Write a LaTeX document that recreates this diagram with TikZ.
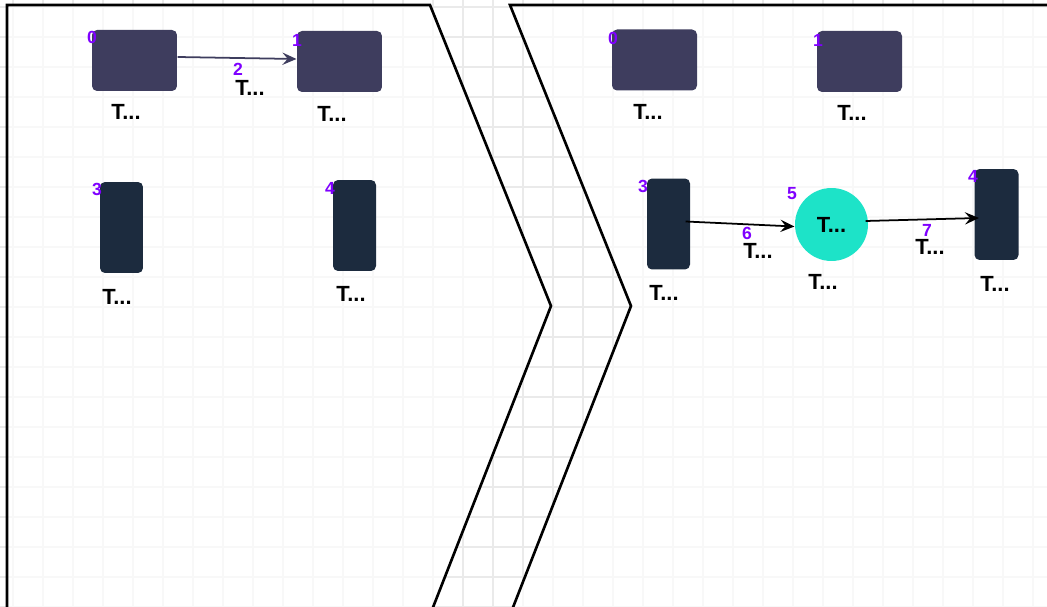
\documentclass[tikz,border=0pt]{standalone}
\usepackage{fontspec}
\setmainfont{Liberation Sans}
\usepackage{xcolor}
\usepackage{tikz}
\usetikzlibrary{arrows.meta}
\usetikzlibrary{positioning}

\definecolor{slab}{RGB}{62,61,94}
\definecolor{pillar}{RGB}{28,43,62}
\definecolor{aqua}{RGB}{29,227,200}
\definecolor{idviolet}{RGB}{127,0,255}
\definecolor{gridgray}{RGB}{234,234,234}

\begin{document}
\begin{tikzpicture}[x=0.02cm,y=-0.02cm,>={Stealth[length=8pt,width=7pt,inset=3pt]},semithick]
	\tikzstyle{wide}=[fill=slab, rounded corners=0.1cm, minimum width=1.7cm, minimum height=1.22cm, inner sep=0pt]
	\tikzstyle{tall}=[fill=pillar, rounded corners=0.1cm, minimum width=0.86cm, minimum height=1.82cm, inner sep=0pt]
	\tikzstyle{hub}=[fill=aqua, circle, minimum size=1.46cm, inner sep=0pt, font=\fontsize{12.5}{14}\selectfont\bfseries]
	\tikzstyle{txt}=[font=\fontsize{12.5}{14}\selectfont\bfseries, inner sep=0pt]
	\tikzstyle{num}=[font=\fontsize{10}{11}\selectfont\bfseries, text=idviolet, inner sep=0pt]
	\tikzstyle{link}=[->, line width=1pt]
	\tikzstyle{panel}=[line width=1.5pt, line join=miter]

	\useasboundingbox (0,0) rectangle (1047,607);
	\clip (0,0) rectangle (1047,607);

	% background grid
	\foreach \x in {13,43,...,1043} \draw[gridgray, line width=0.6pt] (\x,0) -- (\x,607);
	\foreach \y in {7,37,...,607} \draw[gridgray, line width=0.6pt] (0,\y) -- (1047,\y);

	% the two chevron panels
	\fill[white, opacity=0.7] (7,615) -- (7,5) -- (430,5) -- (551,306) -- (430,615) -- cycle;
	\fill[white, opacity=0.7] (1060,5) -- (510,5) -- (631,306) -- (510,615) -- (1060,615) -- cycle;
	\draw[panel] (7,615) -- (7,5) -- (430,5) -- (551,306) -- (430,615);
	\draw[panel] (1060,5) -- (510,5) -- (631,306) -- (510,615);

	% left panel
	\node[wide] 		(L0) at (134.5,60.5)	{};
	\node[wide] 		(L1) at (339.5,61.5)	{};
	\node[tall] 		(L3) at (121.5,227.5)	{};
	\node[tall] 		(L4) at (354.5,225.5)	{};
	\node[num]  (L0n) at (92,37)   {0};
	\node[num]  (L1n) at (297,40)  {1};
	\node[num]  (L3n) at (97,189)  {3};
	\node[num]  (L4n) at (330,188) {4};
	\node[txt]  (L0t) at (126,112)  {T...};
	\node[txt]  (L1t) at (332,114)  {T...};
	\node[txt]  (L3t) at (117,297)  {T...};
	\node[txt]  (L4t) at (351,294)  {T...};
	\node[num]  (L2n) at (238,69)  {2};
	\node[txt]  (L2t) at (250,88)  {T...};

	% right panel
	\node[wide] 		(R0) at (654.5,60)		{};
	\node[wide] 		(R1) at (859.5,61.5)	{};
	\node[tall] 		(R3) at (668.5,224)		{};
	\node[tall, minimum width=0.88cm] (R4) at (996.5,214.5)	{};
	\node[hub]  		(R5) at (831.5,224.5)	{T...};
	\node[num]  (R0n) at (613,38)  {0};
	\node[num]  (R1n) at (818,40)  {1};
	\node[num]  (R3n) at (643,186) {3};
	\node[num]  (R4n) at (973,176) {4};
	\node[num]  (R5n) at (792,194) {5};
	\node[txt]  (R0t) at (648,112)  {T...};
	\node[txt]  (R1t) at (852,113)  {T...};
	\node[txt]  (R3t) at (664,293)  {T...};
	\node[txt]  (R4t) at (995,284)  {T...};
	\node[txt]  (R5t) at (823,282)  {T...};
	\node[num]  (R6n) at (747,233) {6};
	\node[txt]  (R6t) at (758,251) {T...};
	\node[num]  (R7n) at (927,230) {7};
	\node[txt]  (R7t) at (930,247) {T...};

	\path[link]
		([yshift=0.07cm]L0.east) edge[slab] ([yshift=0.05cm]L1.west)
		([xshift=-0.1cm,yshift=0.05cm]R3.east) edge ([yshift=-0.04cm]R5.west)
		([xshift=-0.06cm,yshift=0.07cm]R5.east) edge ([xshift=0.1cm,yshift=-0.07cm]R4.west);
\end{tikzpicture}
\end{document}
